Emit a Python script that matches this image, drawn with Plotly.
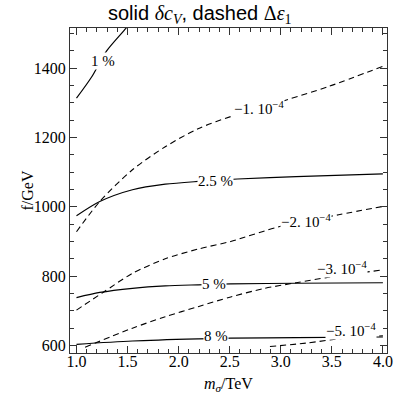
import plotly.graph_objects as go

# ---- data ----
# solid contours: delta c_V
c1_x = [1.0, 1.148, 1.292, 1.485, 1.52]
c1_y = [1313, 1374, 1448, 1515, 1530]
c25_x = [1.0, 1.228, 1.548, 1.869, 2.19, 2.576, 3.15, 4.0]
c25_y = [974, 1015, 1049, 1065, 1073, 1080, 1087, 1095]
c5_x = [1.0, 1.228, 1.548, 1.869, 2.19, 2.51, 3.15, 4.0]
c5_y = [738, 753, 765, 772, 775, 777.5, 779.5, 781]
c8_x = [1.0, 1.548, 2.19, 2.51, 3.15, 4.0]
c8_y = [603.5, 613, 619, 621, 622.5, 624.5]

# dashed contours: Delta epsilon_1
d1_x = [1.0, 1.228, 1.545, 1.869, 2.19, 2.51, 3.056, 3.471, 4.0]
d1_y = [928, 1015, 1106, 1173, 1225, 1260, 1308, 1347, 1405]
d2_x = [1.0, 1.26, 1.548, 1.869, 2.19, 2.51, 2.99, 3.567, 4.0]
d2_y = [702, 753, 808, 850, 878, 900, 943, 977, 1001]
d3_x = [1.084, 1.548, 1.869, 2.19, 2.51, 2.83, 3.15, 3.471, 4.0]
d3_y = [595, 650, 683, 712, 740, 764, 781, 797, 818]
d5_x = [2.894, 3.247, 3.63, 4.0]
d5_y = [597, 607, 621, 628]

solid_curves = [(c1_x, c1_y), (c25_x, c25_y), (c5_x, c5_y), (c8_x, c8_y)]
dashed_curves = [(d1_x, d1_y), (d2_x, d2_y), (d3_x, d3_y), (d5_x, d5_y)]

# contour labels (text, x, y)
label_text = ["1 %", "2.5 %", "5 %", "8 %",
              "\u22121. 10<sup>\u22124</sup>", "\u22122. 10<sup>\u22124</sup>",
              "\u22123. 10<sup>\u22124</sup>", "\u22125. 10<sup>\u22124</sup>"]
label_x = [1.26, 2.365, 2.343, 2.365, 2.783, 3.247, 3.603, 3.69]
label_y = [1419, 1073, 777, 627, 1285, 959, 824, 645]

x_ticks = [1.0, 1.5, 2.0, 2.5, 3.0, 3.5, 4.0]
x_tick_text = ["1.0", "1.5", "2.0", "2.5", "3.0", "3.5", "4.0"]
y_ticks = [600, 800, 1000, 1200, 1400]
y_tick_text = ["600", "800", "1000", "1200", "1400"]

SERIF = "Liberation Serif"

fig = go.Figure()
for xs, ys in solid_curves:
    fig.add_trace(go.Scatter(x=xs, y=ys, mode="lines",
                             line=dict(color="black", width=1.2, shape="spline", smoothing=0.8),
                             hoverinfo="skip", showlegend=False))
for xs, ys in dashed_curves:
    fig.add_trace(go.Scatter(x=xs, y=ys, mode="lines",
                             line=dict(color="black", width=1.1, dash="6px,4px", shape="spline", smoothing=0.8),
                             hoverinfo="skip", showlegend=False))

for t, lx, ly in zip(label_text, label_x, label_y):
    fig.add_annotation(x=lx, y=ly, text=t, showarrow=False, bgcolor="white",
                       borderpad=0, font=dict(family=SERIF, size=15, color="black"))

axis_common = dict(
    showline=True, linecolor="#333", linewidth=1, mirror="allticks",
    ticks="inside", ticklen=7, tickcolor="#333", tickwidth=1,
    showgrid=False, zeroline=False,
    tickfont=dict(family=SERIF, size=16, color="black"),
)

fig.update_xaxes(range=[0.9365, 4.04], tickvals=x_ticks, ticktext=x_tick_text,
                 ticklabelstandoff=-6,
                 minor=dict(ticks="inside", dtick=0.1, tick0=1.0, ticklen=4, tickcolor="#333"),
                 **axis_common)
fig.update_yaxes(range=[578.4, 1515.4], tickvals=y_ticks, ticktext=y_tick_text,
                 minor=dict(ticks="inside", dtick=50, tick0=600, ticklen=4, tickcolor="#333"),
                 **axis_common)

# title and axis labels
fig.add_annotation(xref="paper", yref="paper", x=0.41, y=1.0, yshift=14, showarrow=False,
                   xanchor="center", yanchor="middle",
                   text="solid <span style='font-family:Liberation Serif'><i>\u03b4c</i><sub><i>V</i></sub></span>, dashed <span style='font-family:Liberation Serif'>\u0394<i>\u03b5</i><sub>1</sub></span>",
                   font=dict(family="Liberation Sans", size=20, color="black"))
fig.add_annotation(xref="paper", yref="paper", x=0.5, y=0, yshift=-31, showarrow=False,
                   xanchor="center", yanchor="middle",
                   text="<i>m</i><sub><i>\u03c3</i></sub>/TeV",
                   font=dict(family=SERIF, size=16, color="black"))
fig.add_annotation(xref="paper", yref="paper", x=0, y=0.5, xshift=-43, showarrow=False,
                   xanchor="center", yanchor="middle",
                   text="f/GeV", textangle=-90,
                   font=dict(family=SERIF, size=16, color="black"))

fig.update_layout(width=399, height=396, margin=dict(l=70, r=6, t=28, b=43),
                  plot_bgcolor="white", paper_bgcolor="white")

fig.write_html("out.html")
